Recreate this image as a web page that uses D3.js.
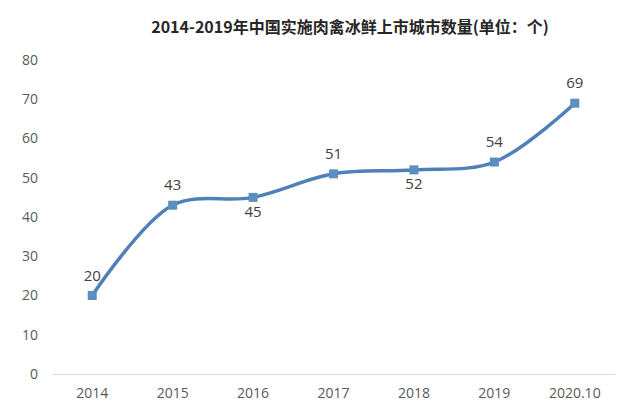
<!DOCTYPE html>
<html><head><meta charset="utf-8">
<script src="https://cdn.jsdelivr.net/npm/d3@7"></script>
<style>body{margin:0;background:#fff}svg{display:block}</style>
</head><body>
<svg id="c" width="636" height="411"></svg>
<script>
const categories = ["2014","2015","2016","2017","2018","2019","2020.10"];
const values = [20,43,45,51,52,54,69];
const labelPos = ["above","above","below","above","below","above","above"];
const yTicks = [0,10,20,30,40,50,60,70,80];
const title = "2014-2019年中国实施肉禽冰鲜上市城市数量(单位：个)";

const svg = d3.select("#c");
const W = 636, H = 411;
const x = d3.scaleBand().domain(categories).range([52, 615]);
const y = d3.scaleLinear().domain([0, 80]).range([374, 60]);
const cx = d => x(d) + x.bandwidth()/2;
const numFont = "'Open Sans', sans-serif";

svg.append("rect").attr("width", W).attr("height", H).attr("fill", "#fff");

svg.append("text").attr("x", 350).attr("y", 33).attr("text-anchor", "middle")
  .attr("font-family", "'Noto Sans CJK SC', sans-serif").attr("font-weight", "bold")
  .attr("font-size", 16).attr("fill", "#262626").text(title);

// y axis labels
svg.append("g").selectAll("text").data(yTicks).join("text")
  .attr("x", 38).attr("y", d => y(d)).attr("dy", "0.35em").attr("text-anchor", "end")
  .attr("font-family", numFont).attr("font-size", 14)
  .attr("fill", "#595959").text(d => d);

// x axis
const xAxis = svg.append("g").attr("transform", "translate(0,374)")
  .call(d3.axisBottom(x).tickSize(0).tickPadding(14));
xAxis.select(".domain").attr("stroke", "#d9d9d9").attr("stroke-width", 1);
xAxis.selectAll("text").attr("font-family", numFont)
  .attr("font-size", 14).attr("fill", "#595959");

const pts = categories.map((c, i) => [cx(c), y(values[i])]);
const line = d3.line().curve(d3.curveCatmullRom.alpha(0.5));
svg.append("path").attr("d", line(pts)).attr("fill", "none")
  .attr("stroke", "#4f81b8").attr("stroke-width", 3.5).attr("stroke-linecap", "round");

svg.append("g").selectAll("rect").data(categories).join("rect")
  .attr("x", (d) => cx(d) - 4.5).attr("y", (d, i) => y(values[i]) - 4.5)
  .attr("width", 9).attr("height", 9).attr("fill", "#5b8fbf");

svg.append("g").selectAll("text").data(categories).join("text")
  .attr("x", d => cx(d)).attr("y", (d, i) => y(values[i]) + (labelPos[i] === "above" ? -20 : 14))
  .attr("dy", "0.35em").attr("text-anchor", "middle")
  .attr("font-family", numFont).attr("font-size", 15)
  .attr("fill", "#404040").text((d, i) => values[i]);
</script>
</body></html>
